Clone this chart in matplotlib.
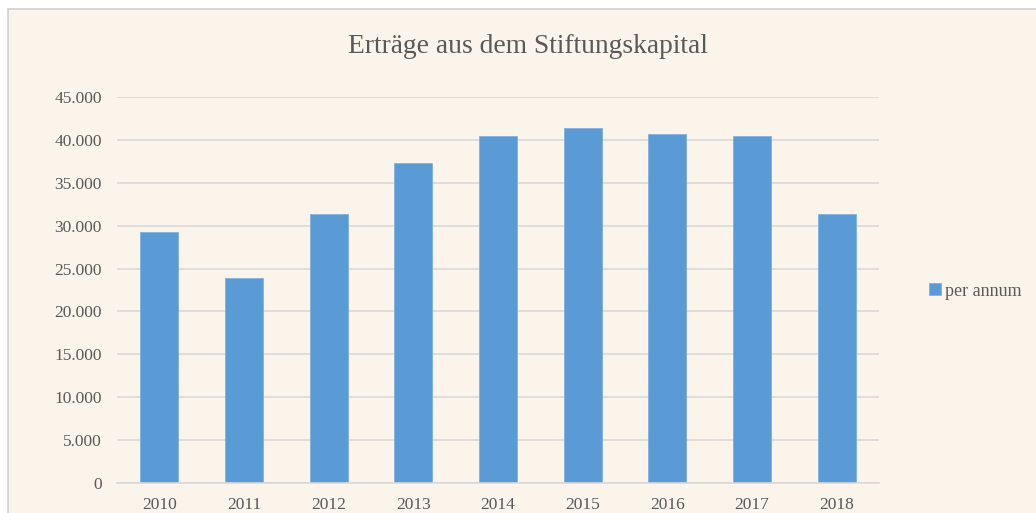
import matplotlib
matplotlib.use("Agg")
import matplotlib.pyplot as plt
from matplotlib.patches import Rectangle
from matplotlib.ticker import FuncFormatter

years = ["2010", "2011", "2012", "2013", "2014", "2015", "2016", "2017", "2018"]
values = [29300, 23850, 31400, 37300, 40400, 41400, 40700, 40450, 31350]
series_name = "per annum"
title = "Erträge aus dem Stiftungskapital"
y_ticks = [0, 5000, 10000, 15000, 20000, 25000, 30000, 35000, 40000, 45000]

W, H = 1036, 513
bg = "#FBF4EA"
text_c = "#595959"
grid_c = "#D9D9D9"
bar_c = "#5B9BD5"

plt.rcParams['font.family'] = ['Liberation Serif', 'DejaVu Serif']

fig = plt.figure(figsize=(W / 100, H / 100), dpi=100)
fig.patch.set_facecolor("white")
# chart frame
fig.patches.append(Rectangle((8 / W, -0.1), 1.2, 1.1 - 9 / H, transform=fig.transFigure,
                             facecolor=bg, edgecolor="#CFCFCF", linewidth=1.2, zorder=-5))

ax = fig.add_axes([117 / W, 1 - 483 / H, (879 - 117) / W, (483 - 97) / H])
ax.set_facecolor("none")
x = list(range(len(years)))
ax.bar(x, values, width=0.45, color=bar_c, edgecolor="#7FB0DF", linewidth=0.6,
       label=series_name, zorder=3)
ax.set_xlim(-0.5, len(years) - 0.5)
ax.set_ylim(0, 45000)
ax.set_yticks(y_ticks)
ax.yaxis.set_major_formatter(FuncFormatter(lambda v, p: f"{int(v):,}".replace(",", ".")))
ax.set_xticks(x)
ax.set_xticklabels(years)
ax.grid(axis="y", color=grid_c, linewidth=1.2, zorder=0)
for s in ["top", "right", "left"]:
    ax.spines[s].set_visible(False)
ax.spines["bottom"].set_color(grid_c)
ax.spines["bottom"].set_linewidth(1.2)
ax.spines["bottom"].set_zorder(4)
ax.tick_params(axis="both", length=0, colors=text_c, labelsize=12.5)
ax.tick_params(axis="y", pad=11)
ax.tick_params(axis="x", pad=10)

fig.text(528 / W, 1 - 47 / H, title, ha="center", va="center", fontsize=19.8, color=text_c)

leg = ax.legend(loc="center left", bbox_to_anchor=(929 / W, 1 - 291 / H),
                bbox_transform=fig.transFigure, frameon=False, fontsize=13,
                handlelength=0.65, handleheight=0.65, handletextpad=0.25,
                borderpad=0, borderaxespad=0)
for t in leg.get_texts():
    t.set_color(text_c)

fig.savefig("out.png", dpi=100, facecolor=fig.get_facecolor())
